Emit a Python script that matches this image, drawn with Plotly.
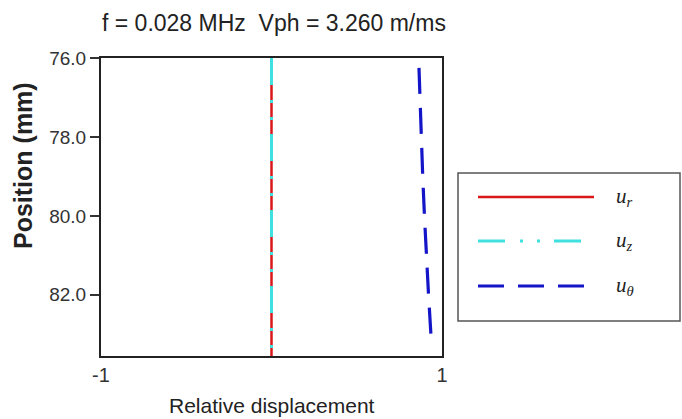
import plotly.graph_objects as go

# ---- data ----
position_full = [76.0, 77.0, 78.0, 79.0, 80.0, 81.0, 82.0, 83.0, 83.55]
u_r = [0.0, 0.0, 0.0, 0.0, 0.0, 0.0, 0.0, 0.0, 0.0]
u_z = [0.0, 0.0, 0.0, 0.0, 0.0, 0.0, 0.0, 0.0, 0.0]
position_theta = [76.25, 77.0, 78.0, 79.0, 80.0, 81.0, 82.0, 83.0]
u_theta = [0.865, 0.870, 0.878, 0.887, 0.897, 0.908, 0.921, 0.935]
x_tick_vals = [-1, 1]
x_tick_text = ["-1", "1"]
y_tick_vals = [76, 78, 80, 82]
legend_labels = ["<i>u</i><sub><i>r</i></sub>", "<i>u</i><sub><i>z</i></sub>", "<i>u</i><sub><i>θ</i></sub>"]

RED = "#d81818"
CYAN = "#40e0e0"
BLUE = "#1414c8"

fig = go.Figure()
fig.add_trace(go.Scatter(x=u_r, y=position_full, mode="lines", name="u_r",
                         line=dict(color=RED, width=2.5), showlegend=False))
fig.add_trace(go.Scatter(x=u_z, y=position_full, mode="lines", name="u_z",
                         line=dict(color=CYAN, width=3, dash="27px,15px,3px,14px,3px,14px"),
                         showlegend=False))
fig.add_trace(go.Scatter(x=u_theta, y=position_theta, mode="lines", name="u_theta",
                         line=dict(color=BLUE, width=3.2, dash="26px,14px"), showlegend=False))

L, R, T, B = 101, 240, 58, 63
W, H = 682, 419
pw, ph = W - L - R, H - T - B

def px(x):
    return (x - L) / pw

def py(y):
    return (H - B - y) / ph

shapes = [
    dict(type="rect", xref="paper", yref="paper", x0=px(458), x1=px(680), y0=py(321), y1=py(173),
         line=dict(color="#555555", width=1.5), fillcolor="rgba(0,0,0,0)"),
]
legend_styles = [
    dict(color=RED, width=2.5, dash="solid"),
    dict(color=CYAN, width=3, dash="27px,15px,3px,14px,3px,14px"),
    dict(color=BLUE, width=3.2, dash="26px,14px"),
]
legend_rows = [197, 241, 286]
annotations = []
for lab, st, yy in zip(legend_labels, legend_styles, legend_rows):
    shapes.append(dict(type="line", xref="paper", yref="paper", x0=px(478), x1=px(594),
                       y0=py(yy), y1=py(yy), line=st))
    annotations.append(dict(text=lab, xref="paper", yref="paper", x=px(614), y=py(yy),
                            xanchor="left", yanchor="middle", showarrow=False,
                            font=dict(family="Liberation Serif, serif", size=21, color="#222")))

annotations.append(dict(text="Relative displacement", xref="paper", yref="paper",
                        x=px(272), y=py(405), xanchor="center", yanchor="middle", showarrow=False,
                        font=dict(family="Liberation Sans, Arial, sans-serif", size=21, color="#222")))
annotations.append(dict(text="<b>Position (mm)</b>", xref="paper", yref="paper",
                        x=px(23), y=py(166), xanchor="center", yanchor="middle", showarrow=False,
                        textangle=-90,
                        font=dict(family="Liberation Sans, Arial, sans-serif", size=25, color="#222")))

fig.update_layout(
    width=W, height=H,
    margin=dict(l=L, r=R, t=T, b=B),
    paper_bgcolor="white", plot_bgcolor="white",
    title=dict(text="f = 0.028 MHz&nbsp; Vph = 3.260 m/ms", x=px(102), xref="paper", xanchor="left",
               y=1 - 23 / H, yref="container", yanchor="middle",
               font=dict(family="Liberation Sans, Arial, sans-serif", size=23, color="#222")),
    shapes=shapes, annotations=annotations,
    font=dict(family="Liberation Sans, Arial, sans-serif", color="#333"),
)
fig.update_xaxes(range=[-1, 1], tickvals=x_tick_vals, ticktext=x_tick_text, ticks="",
                 showgrid=False, zeroline=False, showline=True, mirror=True,
                 linecolor="#222", linewidth=2, tickfont=dict(size=20, color="#333"))
fig.update_yaxes(range=[83.55, 76], tickvals=y_tick_vals, tickformat=".1f", ticks="outside",
                 ticklen=9, tickwidth=1.5, tickcolor="#333",
                 showgrid=False, zeroline=False, showline=True, mirror=True,
                 linecolor="#222", linewidth=2, tickfont=dict(size=19, color="#333"))

fig.write_html("out.html", config={"displayModeBar": False},
               post_script="document.body.style.margin='0';")
